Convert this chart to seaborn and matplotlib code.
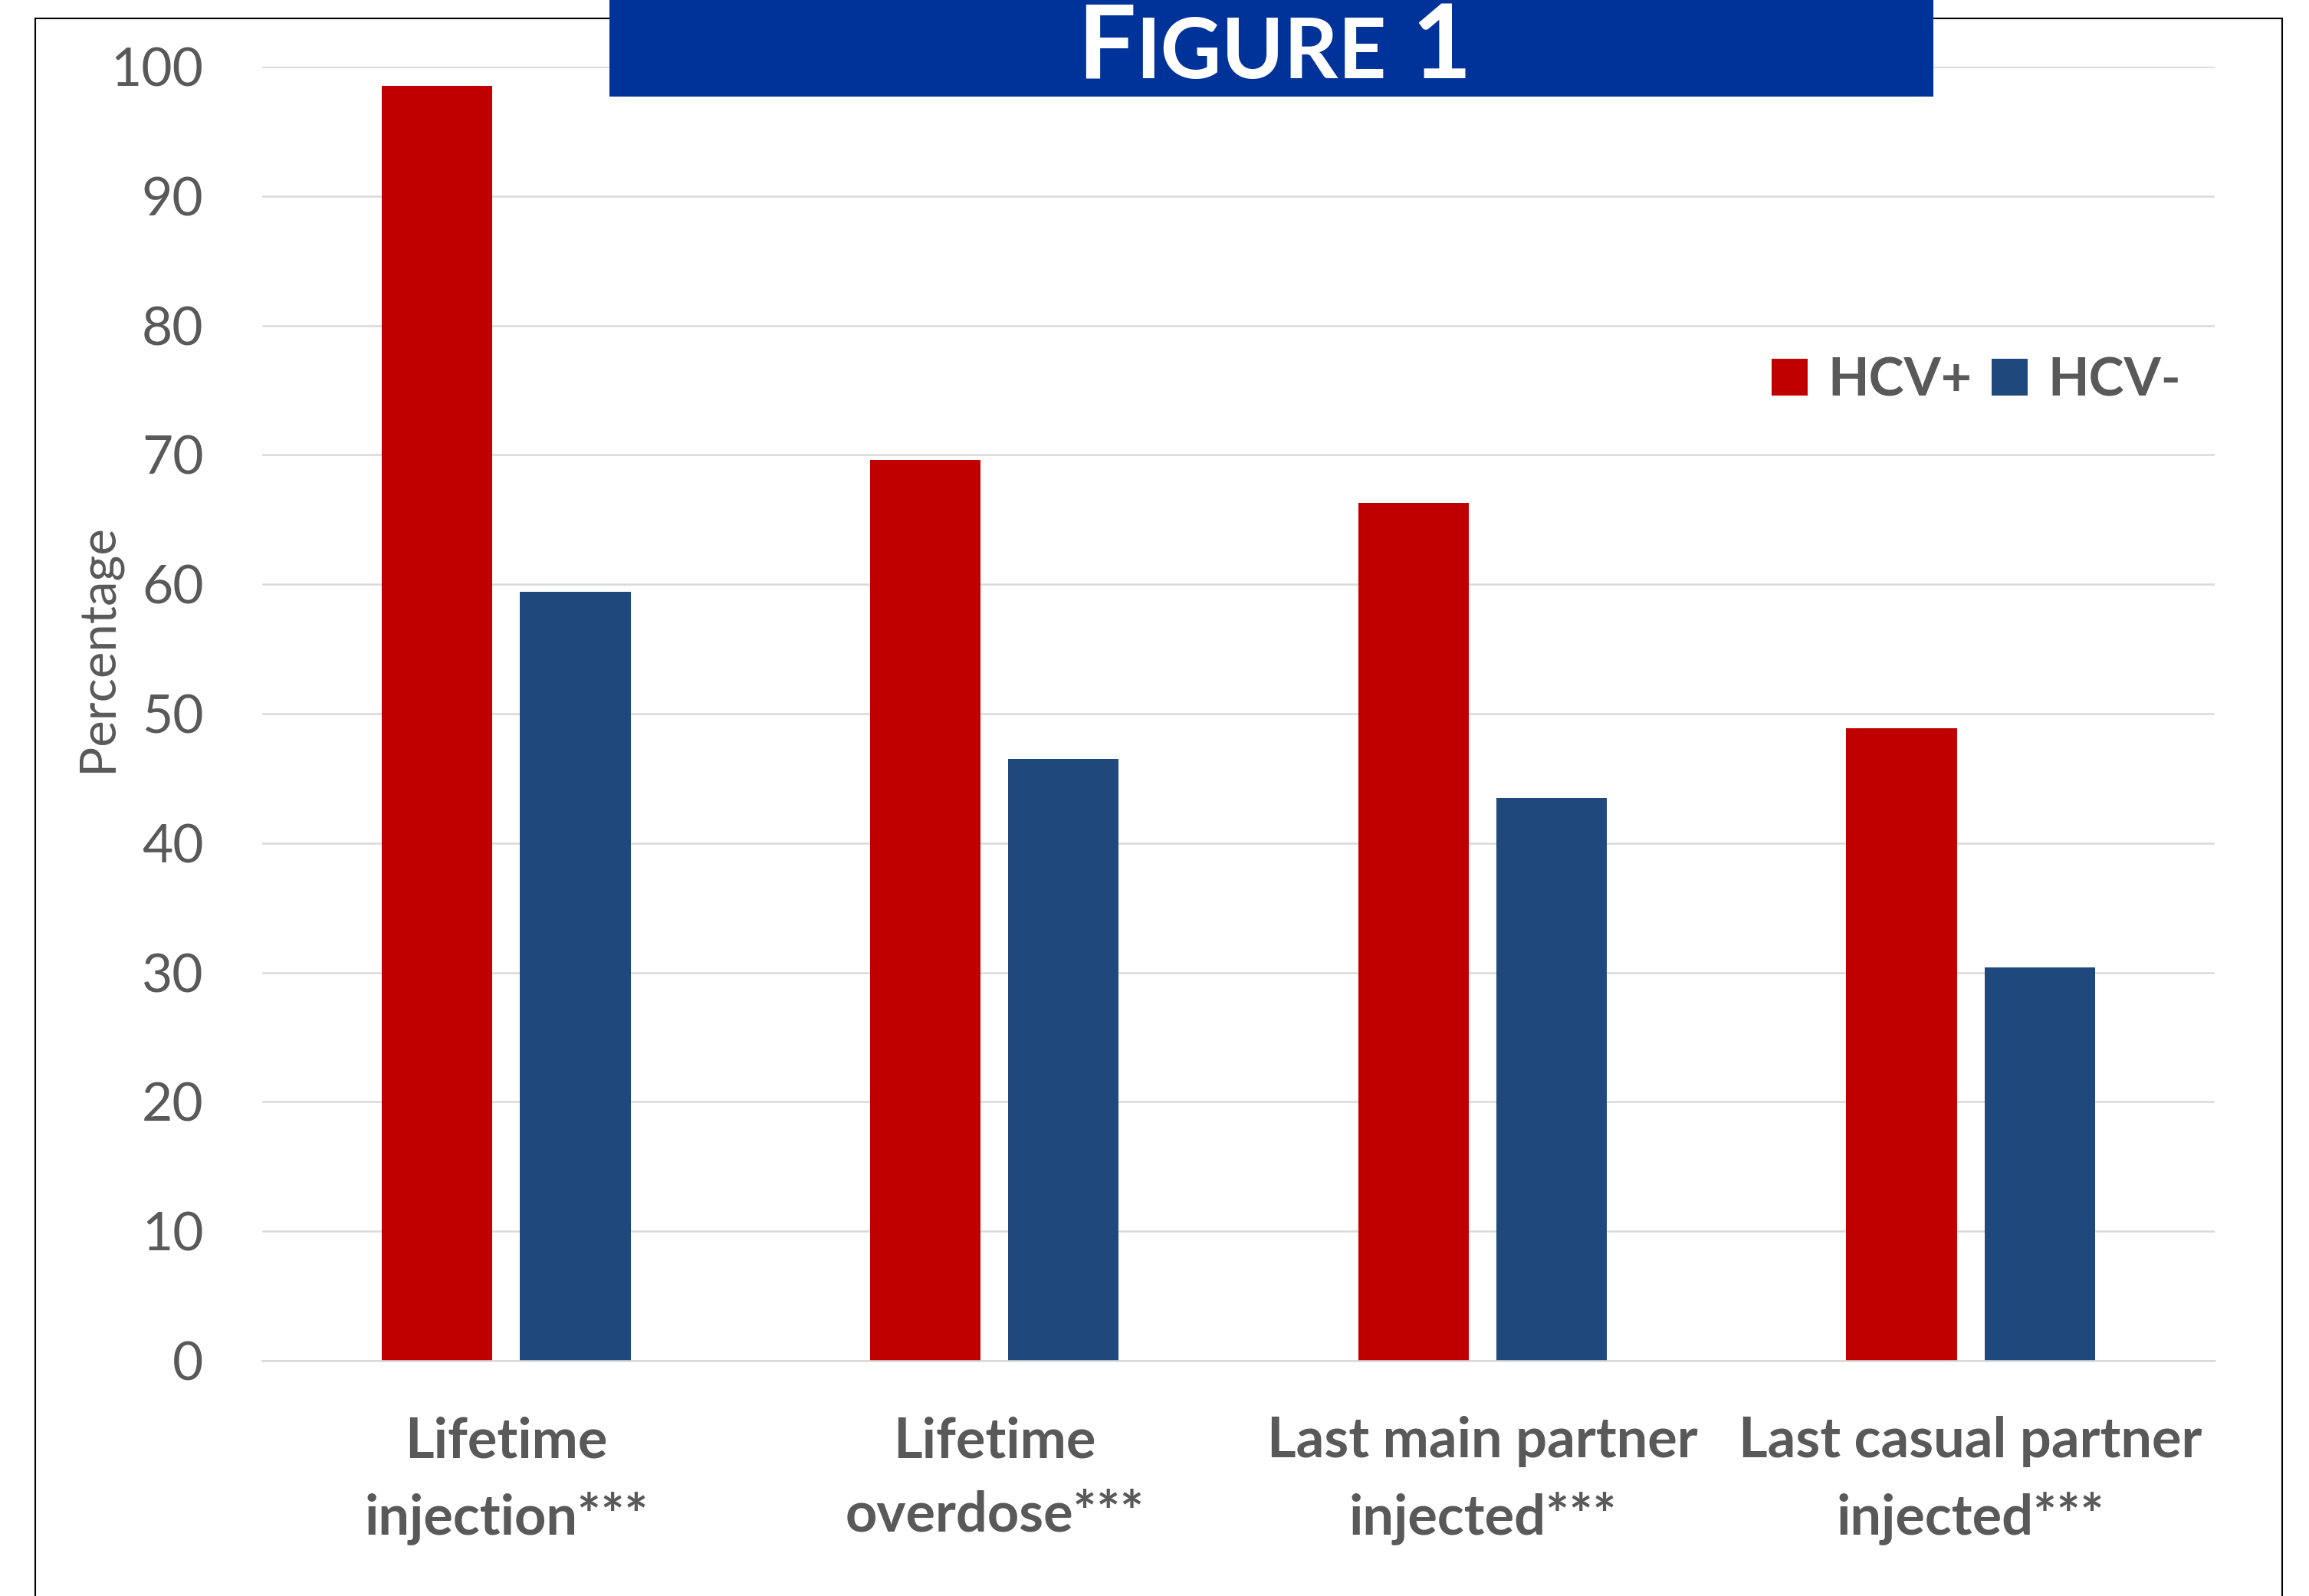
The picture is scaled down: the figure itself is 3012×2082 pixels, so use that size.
import numpy as np
import pandas as pd
import matplotlib
matplotlib.use("Agg")
import matplotlib.pyplot as plt
import matplotlib.patches as mpatches
import seaborn as sns

# ---- data ----
categories = ["Lifetime\ninjection***", "Lifetime\noverdose***",
              "Last main partner\ninjected***", "Last casual partner\ninjected***"]
hcv_pos = [98.5, 69.6, 66.3, 48.9]
hcv_neg = [59.4, 46.5, 43.5, 30.4]
groups = ["HCV+", "HCV-"]
yticks = [0, 10, 20, 30, 40, 50, 60, 70, 80, 90, 100]

df = pd.DataFrame({
    "category": categories * 2,
    "group": [groups[0]] * len(categories) + [groups[1]] * len(categories),
    "value": hcv_pos + hcv_neg,
})

W, H = 3012, 2082
sns.set_theme(style="white")
plt.rcParams["font.family"] = ["Lato", "DejaVu Sans"]

GREY = "#595959"
fig = plt.figure(figsize=(W / 100, H / 100), dpi=100)
ax = fig.add_axes([342 / W, 1 - 1775 / H, (2889 - 342) / W, (1775 - 87) / H])

sns.barplot(data=df, x="category", y="value", hue="group", hue_order=groups,
            order=categories, palette={"HCV+": "#C00000", "HCV-": "#1F497D"},
            width=0.566, gap=0.2, errorbar=None, ax=ax, saturation=1,
            linewidth=0)

ax.set_ylim(0, 100)
ax.set_yticks(yticks)
ax.set_yticklabels([str(v) for v in yticks])
ax.set_xlim(-0.5, len(categories) - 0.5)
ax.yaxis.grid(True, color="#D9D9D9", linewidth=1.8)
ax.set_axisbelow(True)
for s in ["top", "right", "left"]:
    ax.spines[s].set_visible(False)
ax.spines["bottom"].set_color("#D9D9D9")
ax.spines["bottom"].set_linewidth(1.8)

ax.tick_params(axis="y", length=0, pad=55, labelsize=50, labelcolor=GREY)
ax.tick_params(axis="x", length=0, pad=52, labelsize=52, labelcolor=GREY)
for t in ax.get_xticklabels():
    t.set_fontweight("bold")
    t.set_linespacing(1.55)

ax.set_xlabel("")
ax.set_ylabel("Percentage", fontsize=47, color=GREY, va="center")
ax.yaxis.set_label_coords((127 - 342) / (2889 - 342), (1775 - 845) / (1775 - 87))

# legend
old = ax.get_legend()
handles = old.legend_handles
labels = [t.get_text() for t in old.get_texts()]
old.remove()
leg = ax.legend(handles, labels, loc="center left",
                bbox_to_anchor=((2311 - 342) / (2889 - 342), (1775 - 497) / (1775 - 87)),
                ncol=2, frameon=False, borderpad=0, borderaxespad=0,
                handlelength=0.68, handleheight=0.68, handletextpad=0.38,
                columnspacing=0.36,
                prop={"weight": "bold", "size": 50})
for t in leg.get_texts():
    t.set_color(GREY)

# outer frame
frame = mpatches.Rectangle((46 / W, -0.05), (2977 - 46) / W, 1 - 24 / H + 0.05,
                           transform=fig.transFigure, fill=False,
                           edgecolor="black", linewidth=1.5, zorder=5)
fig.add_artist(frame)

# title box
tbox = mpatches.Rectangle((795 / W, 1 - 126 / H), (2522 - 795) / W, 126 / H + 0.01,
                          transform=fig.transFigure, facecolor="#003399",
                          edgecolor="none", zorder=6)
fig.add_artist(tbox)

# small caps title "FIGURE 1"
fig.canvas.draw()
renderer = fig.canvas.get_renderer()
base_y = 1 - 102 / H
x = 1405 / W
pieces = [("F", 97), ("IGURE", 79), (" 1", 97)]
for txt, size in pieces:
    t = fig.text(x, base_y, txt, fontsize=size, fontweight="bold", color="white",
                 ha="left", va="baseline", zorder=7)
    bb = t.get_window_extent(renderer=renderer)
    x += bb.width / W

fig.savefig("out.png", dpi=100)
